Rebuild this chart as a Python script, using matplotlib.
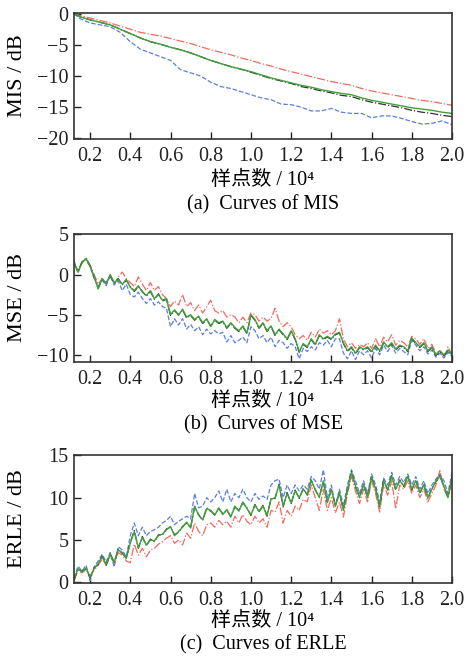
import numpy as np
import matplotlib
matplotlib.use("Agg")
import matplotlib.pyplot as plt
from matplotlib.ticker import FormatStrFormatter

plt.rcParams['font.family'] = ['Liberation Serif', 'Noto Sans CJK SC']
plt.rcParams['axes.unicode_minus'] = True

# ---------------- data ----------------
# (a) MIS curves (x in units of 10^4 samples)
mis_x = [0.12, 0.15, 0.20, 0.25, 0.30, 0.35, 0.40, 0.45, 0.50, 0.55, 0.60, 0.65, 0.70,
         0.75, 0.80, 0.85, 0.90, 0.95, 1.00, 1.05, 1.10, 1.15, 1.20, 1.25, 1.30, 1.35,
         1.40, 1.45, 1.50, 1.55, 1.60, 1.65, 1.70, 1.75, 1.80, 1.85, 1.90, 1.95, 2.00]
mis_red = [0.0, -0.3, -0.7, -1.1, -1.5, -2.0, -2.5, -3.0, -3.3, -3.6, -4.0, -4.4, -4.8,
           -5.3, -5.8, -6.2, -6.6, -7.1, -7.5, -8.0, -8.4, -8.9, -9.3, -9.7, -10.1, -10.5,
           -10.9, -11.2, -11.5, -12.0, -12.4, -12.7, -13.0, -13.3, -13.6, -13.9, -14.1, -14.4, -14.7]
mis_green = [0.0, -0.5, -1.0, -1.4, -1.8, -2.5, -3.2, -3.9, -4.5, -4.9, -5.4, -5.8, -6.3,
             -6.9, -7.5, -8.0, -8.5, -8.9, -9.3, -9.8, -10.3, -10.7, -11.1, -11.5, -11.8, -12.2,
             -12.5, -12.8, -13.0, -13.5, -13.9, -14.2, -14.5, -14.8, -15.1, -15.3, -15.5, -15.8, -16.0]
mis_black = [0.0, -0.5, -1.0, -1.4, -1.8, -2.5, -3.2, -3.9, -4.5, -4.9, -5.4, -5.8, -6.3,
             -6.9, -7.5, -8.0, -8.5, -8.9, -9.4, -9.9, -10.4, -10.8, -11.2, -11.7, -12.0, -12.4,
             -12.7, -13.1, -13.3, -13.8, -14.2, -14.5, -14.8, -15.1, -15.5, -15.8, -16.0, -16.3, -16.5]
mis_blue = [0.0, -0.8, -1.5, -1.8, -2.1, -3.0, -4.5, -5.7, -6.3, -6.9, -7.5, -9.0, -9.5,
            -10.0, -11.0, -11.7, -12.0, -12.5, -13.0, -13.5, -13.8, -14.5, -14.6, -15.0, -15.6, -15.6,
            -15.2, -15.8, -16.0, -16.0, -16.7, -16.4, -16.4, -16.8, -17.3, -17.7, -17.6, -17.2, -17.8]

# (b) MSE and (c) ERLE curves, sampled every 0.02 (x 10^4) from 0.12 to 2.00
curve_x = np.round(np.arange(0.12, 2.0001, 0.02), 2)

mse_green = [1.5, 0.3, 1.5, 2.0, 1.0, -0.2, -1.8, -0.5, -1.2, 0.0, -1.0, -0.6, -1.2, -0.6, -1.6,
             -2.0, -1.4, -2.2, -2.6, -2.0, -3.0, -2.5, -3.2, -3.0, -5.0, -4.4, -5.1, -4.3, -5.3, -5.0,
             -5.6, -5.2, -6.0, -5.5, -6.5, -5.6, -6.0, -5.8, -6.6, -6.0, -6.6, -7.0, -6.4, -7.3, -5.0,
             -5.6, -6.6, -6.0, -7.0, -6.4, -7.5, -6.8, -7.4, -8.0, -7.0, -8.0, -9.6, -8.6, -9.0, -8.0,
             -8.7, -7.5, -8.0, -7.7, -8.0, -7.4, -7.2, -8.5, -9.5, -9.0, -9.8, -9.0, -9.3, -9.0, -9.6,
             -8.8, -9.5, -8.4, -9.0, -8.5, -9.3, -8.8, -9.0, -9.5, -7.9, -8.5, -9.0, -8.5, -9.5, -9.0,
             -10.0, -9.5, -10.0, -9.4, -10.0]
mse_black = [1.4, 0.4, 1.6, 1.9, 1.1, -0.3, -1.7, -0.6, -1.1, -0.1, -1.1, -0.5, -1.3, -0.7, -1.5,
             -2.1, -1.5, -2.1, -2.7, -2.1, -3.1, -2.4, -3.3, -3.1, -5.1, -4.5, -5.0, -4.4, -5.4, -5.1,
             -5.7, -5.3, -6.1, -5.6, -6.4, -5.7, -6.1, -5.9, -6.7, -6.1, -6.7, -7.1, -6.5, -7.4, -5.1,
             -5.7, -6.7, -6.1, -7.1, -6.5, -7.6, -6.9, -7.5, -8.1, -7.1, -8.1, -9.7, -8.7, -9.1, -8.1,
             -8.8, -7.6, -8.1, -7.8, -8.1, -7.5, -7.3, -8.6, -9.6, -9.1, -9.9, -9.1, -9.4, -9.1, -9.7,
             -8.9, -9.6, -8.5, -9.1, -8.6, -9.4, -8.9, -9.1, -9.6, -8.0, -8.6, -9.1, -8.6, -9.6, -9.1,
             -10.1, -9.6, -10.1, -9.5, -10.1]
mse_red = [1.3, 0.5, 1.4, 2.1, 1.2, 0.0, -1.2, -0.5, -1.0, -0.2, -1.2, -0.3, 0.3, -0.5, -1.0,
           -1.5, -0.3, -1.2, -2.0, -1.0, -2.0, -1.5, -2.5, -3.0, -4.0, -3.3, -3.8, -2.5, -4.0, -3.5,
           -4.5, -3.8, -4.8, -4.0, -3.2, -4.5, -4.8, -4.5, -5.3, -5.0, -5.3, -6.0, -5.3, -6.0, -4.8,
           -5.0, -5.8, -5.3, -5.8, -5.5, -4.2, -5.8, -6.5, -6.0, -6.5, -7.5, -8.0, -7.6, -8.2, -7.2,
           -7.8, -6.8, -7.3, -7.0, -7.5, -7.0, -5.5, -8.0, -9.0, -8.5, -9.2, -8.7, -9.0, -8.5, -9.2,
           -8.0, -9.0, -7.8, -8.4, -7.5, -8.8, -8.2, -8.5, -9.0, -7.7, -8.0, -8.7, -8.0, -9.2, -8.7,
           -9.8, -9.5, -10.5, -9.0, -10.0]
mse_blue = [1.7, 0.2, 1.6, 1.9, 1.0, -0.5, -1.5, -0.7, -1.4, -0.1, -1.3, -0.8, -2.0, -1.2, -2.5,
            -2.8, -2.2, -3.0, -3.6, -3.0, -3.8, -3.4, -4.0, -4.2, -6.5, -5.5, -6.3, -5.5, -6.8, -6.2,
            -7.0, -6.5, -7.5, -6.8, -7.4, -7.0, -7.4, -7.2, -8.4, -7.6, -8.5, -8.2, -7.8, -8.5, -6.5,
            -7.0, -8.0, -7.6, -8.5, -7.8, -9.0, -8.2, -8.5, -9.2, -8.6, -9.0, -10.5, -9.2, -9.6, -9.0,
            -9.4, -8.5, -8.8, -8.2, -9.0, -8.0, -8.0, -9.8, -10.5, -9.5, -10.6, -9.5, -10.0, -9.5, -10.4,
            -9.2, -10.0, -8.8, -9.6, -8.8, -9.8, -9.2, -9.6, -10.0, -8.2, -8.8, -9.5, -9.0, -9.9, -9.4,
            -10.3, -9.8, -10.4, -9.7, -10.2]

erle_green = [0.3, 1.6, 1.2, 1.7, 0.6, 1.6, 2.2, 3.0, 2.1, 3.3, 2.4, 3.8, 3.5, 2.8, 4.6,
              6.0, 4.1, 5.3, 4.4, 5.0, 4.9, 5.5, 5.7, 6.2, 6.6, 5.5, 6.0, 6.5, 7.1, 6.4,
              9.0, 7.9, 7.4, 8.7, 8.5, 7.9, 8.8, 8.0, 8.6, 7.7, 9.0, 8.4, 9.5, 8.7, 8.0,
              9.1, 8.4, 9.0, 7.9, 9.8, 10.0, 11.5, 9.0, 10.5, 9.4, 10.8, 10.0, 11.0, 10.4, 12.0,
              11.0, 10.0, 12.0, 9.4, 11.0, 9.0, 10.6, 8.5, 11.0, 13.0, 11.4, 10.0, 11.6, 10.0, 12.5,
              11.0, 9.0, 12.0, 11.0, 12.5, 11.0, 12.0, 11.4, 12.5, 11.0, 12.0, 10.6, 11.5, 10.0, 11.0,
              12.0, 12.5, 11.4, 10.0, 12.5]
erle_black = [0.2, 1.5, 1.3, 1.6, 0.5, 1.7, 2.1, 3.1, 2.0, 3.4, 2.3, 3.9, 3.4, 2.9, 4.7,
              6.1, 4.0, 5.4, 4.3, 5.1, 4.8, 5.6, 5.6, 6.3, 6.5, 5.6, 5.9, 6.6, 7.0, 6.5,
              8.9, 8.0, 7.3, 8.8, 8.4, 8.0, 8.7, 8.1, 8.5, 7.8, 8.9, 8.5, 9.4, 8.8, 7.9,
              9.2, 8.3, 9.1, 7.8, 9.9, 9.9, 11.6, 8.9, 10.6, 9.3, 10.9, 9.9, 11.1, 10.3, 12.1,
              10.9, 10.1, 11.9, 9.5, 10.9, 9.1, 10.5, 8.6, 10.9, 13.1, 11.3, 10.1, 11.5, 10.1, 12.4,
              11.1, 8.9, 12.1, 10.9, 12.6, 10.9, 12.1, 11.3, 12.6, 10.9, 12.1, 10.5, 11.6, 9.9, 11.1,
              11.9, 12.6, 11.3, 10.1, 12.4]
erle_red = [0.2, 1.4, 1.1, 1.5, 0.8, 1.4, 2.0, 2.7, 2.0, 3.0, 2.3, 3.5, 3.2, 2.5, 2.3,
            4.5, 3.2, 4.0, 3.0, 3.8, 4.0, 4.5, 4.8, 5.2, 5.5, 4.6, 5.0, 4.4, 5.8, 5.2,
            7.0, 6.0, 5.5, 6.8, 7.0, 6.5, 7.3, 6.8, 7.2, 6.5, 7.8, 7.0, 8.0, 7.2, 6.8,
            7.8, 7.0, 7.5, 6.5, 8.5, 8.3, 9.5, 7.0, 8.5, 7.8, 9.0, 8.5, 9.8, 9.5, 11.5,
            10.0, 8.5, 11.0, 8.5, 10.0, 8.2, 9.5, 7.7, 10.5, 12.5, 10.8, 9.3, 11.0, 9.5, 12.0,
            10.5, 8.3, 11.5, 10.3, 12.0, 8.7, 11.5, 11.0, 12.0, 10.5, 11.5, 10.0, 11.0, 9.5, 10.5,
            11.5, 13.2, 11.0, 10.0, 12.0]
erle_blue = [0.5, 1.9, 1.3, 2.0, 0.2, 1.8, 2.5, 3.3, 2.4, 3.5, 1.8, 4.2, 3.8, 3.0, 5.5,
             7.0, 5.5, 6.5, 5.5, 6.0, 6.2, 6.5, 7.0, 7.3, 7.8, 6.8, 7.2, 7.5, 7.8, 7.5,
             10.5, 8.8, 9.0, 10.0, 9.5, 10.0, 10.8, 9.5, 11.0, 9.5, 10.5, 10.0, 11.0, 10.0, 9.5,
             10.5, 9.8, 10.2, 9.8, 11.5, 12.0, 12.2, 10.0, 11.5, 10.5, 11.5, 10.8, 11.5, 11.0, 12.5,
             12.0, 11.0, 13.3, 10.0, 11.5, 9.0, 11.0, 9.0, 11.5, 13.3, 12.0, 10.5, 12.0, 10.5, 12.8,
             11.5, 9.5, 12.3, 11.5, 13.0, 11.5, 12.5, 11.8, 12.8, 11.5, 12.5, 11.0, 12.0, 10.5, 11.5,
             12.2, 12.8, 12.0, 10.5, 13.0]

x_ticks = [0.2, 0.4, 0.6, 0.8, 1.0, 1.2, 1.4, 1.6, 1.8, 2.0]
xlabel_text = "样点数 / 10⁴"
panel_ylabels = ["MIS / dB", "MSE / dB", "ERLE / dB"]
panel_captions = ["(a)  Curves of MIS", "(b)  Curves of MSE", "(c)  Curves of ERLE"]
panel_yticks = [[0, -5, -10, -15, -20], [5, 0, -5, -10], [0, 5, 10, 15]]
panel_ylims = [(-20.1, 0.1), (-10.9, 5.05), (-0.1, 15.05)]

# ---------------- styles ----------------
C_RED = '#f06a60'
C_BLUE = '#5a7fdc'
C_BLACK = '#333333'
C_GREEN = '#3fa03a'
FS = 14.5

W, H = 465, 663
fig = plt.figure(figsize=(W / 100, H / 100), dpi=100)

# axes boxes in pixels: (left, top, right, bottom)
boxes = [(74, 13, 452, 139), (74, 234, 452, 362), (74, 455, 452, 583)]
xlabel_y = [180, 401, 621]
caption_y = [205, 425, 645]

series = [
    (mis_x, mis_red, mis_blue, mis_black, mis_green),
    (curve_x, mse_red, mse_blue, mse_black, mse_green),
    (curve_x, erle_red, erle_blue, erle_black, erle_green),
]

for i, (l, t, r, b) in enumerate(boxes):
    ax = fig.add_axes([l / W, 1 - b / H, (r - l) / W, (b - t) / H])
    xs, red, blue, black, green = series[i]
    ax.plot(xs, red, color=C_RED, ls='-.', lw=0.9)
    ax.plot(xs, blue, color=C_BLUE, ls='--', lw=0.9)
    ax.plot(xs, black, color=C_BLACK, ls='-.', lw=0.9)
    ax.plot(xs, green, color=C_GREEN, ls='-', lw=1.0)
    ax.set_xlim(0.12, 2.0)
    ax.set_ylim(*panel_ylims[i])
    ax.set_xticks(x_ticks)
    ax.xaxis.set_major_formatter(FormatStrFormatter('%.1f'))
    ax.set_yticks(panel_yticks[i])
    ax.tick_params(direction='in', length=5, width=1.0, labelsize=FS,
                   top=False, right=False, colors='#222222')
    ax.tick_params(axis='x', pad=6)
    ax.tick_params(axis='y', pad=4)
    for sp in ax.spines.values():
        sp.set_linewidth(1.2)
        sp.set_color('#333333')
    ax.set_ylabel(panel_ylabels[i], fontsize=16)
    ax.yaxis.set_label_coords(-0.125, 0.5)
    cx = (l + r) / 2 / W
    fig.text(cx, 1 - xlabel_y[i] / H, xlabel_text, ha='center', va='center', fontsize=FS)
    fig.text(cx, 1 - caption_y[i] / H, panel_captions[i], ha='center', va='center', fontsize=FS)

fig.savefig('out.png', dpi=100)
